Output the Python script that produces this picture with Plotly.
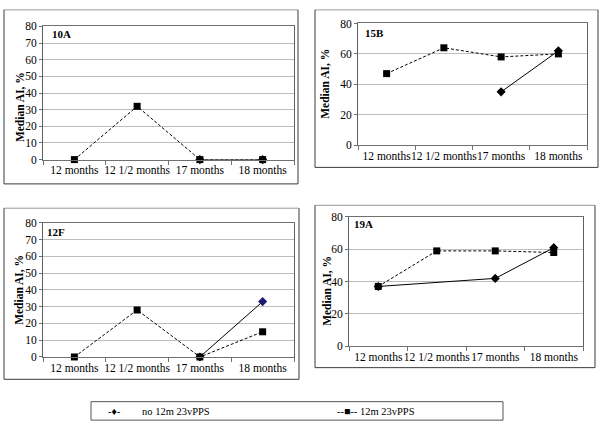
import plotly.graph_objects as go

W, H = 600, 431

categories = ["12 months", "12 1/2 months", "17 months", "18 months"]
panel_names = ["10A", "15B", "12F", "19A"]

p10A_no = [None, None, 0, 0]
p10A_12m = [0, 32, 0, 0]
p15B_no = [None, None, 35, 62]
p15B_12m = [47, 64, 58, 60]
p12F_no = [None, None, 0, 33]
p12F_12m = [0, 28, 0, 15]
p19A_no = [37, None, 42, 61]
p19A_12m = [37, 59, 59, 58]

series_no = [p10A_no, p15B_no, p12F_no, p19A_no]
series_12m = [p10A_12m, p15B_12m, p12F_12m, p19A_12m]
y_dtick = [10, 20, 10, 20]

legend_no = "no 12m 23vPPS"
legend_12m = "12m 23vPPS"
y_title = "Median AI, %"

# layout (pixels): plot area [x0, x1, y0, y1], outer box [x0, x1, y0, y1]
plot_px = [(43, 294, 21, 158), (358, 587, 18, 143), (43, 294, 223, 361), (349, 583, 217, 350)]
outer_px = [(4, 298, 4, 183), (315, 598, 4, 166), (4, 299, 208, 384), (315, 595, 205, 372)]
ytitle_px = [(20, 104), (325, 80), (19, 292), (327, 293)]
label_px = [(50, 29), (363, 28), (45, 232), (352, 224)]

FONT = "Times New Roman, Liberation Serif, serif"

def px(x):
    return x / W

def py(y):
    return 1 - y / H

fig = go.Figure()
layout = dict(
    width=W, height=H, margin=dict(l=0, r=0, t=0, b=0),
    paper_bgcolor="white", plot_bgcolor="white", showlegend=False,
    font=dict(family=FONT, size=11, color="black"),
)
shapes = []
annotations = []

for i in range(4):
    ax = "" if i == 0 else str(i + 1)
    x0, x1, y0, y1 = plot_px[i]
    marker_colors_no = ["black"] * 4
    if panel_names[i] == "12F":
        marker_colors_no = ["black", "black", "black", "#1a1a6e"]
    fig.add_trace(go.Scatter(
        x=categories, y=series_no[i], mode="lines+markers", connectgaps=True,
        line=dict(color="black", width=1),
        marker=dict(symbol="diamond", size=7, color=marker_colors_no),
        xaxis="x" + ax, yaxis="y" + ax, name=legend_no, cliponaxis=False,
    ))
    fig.add_trace(go.Scatter(
        x=categories, y=series_12m[i], mode="lines+markers",
        line=dict(color="black", width=1, dash="3px,2px"),
        marker=dict(symbol="square", size=7, color="black"),
        xaxis="x" + ax, yaxis="y" + ax, name=legend_12m, cliponaxis=False,
    ))
    layout["xaxis" + ax] = dict(
        domain=[px(x0), px(x1)], anchor="y" + ax, type="category",
        categoryorder="array", categoryarray=categories, range=[-0.5, 3.5],
        showline=True, linecolor="#707070", linewidth=1, mirror=True,
        ticks="outside", ticklen=4, tickcolor="#707070", tickson="boundaries",
        tickangle=0, showgrid=False,
        tickfont=dict(family=FONT, size=11.5, color="black"),
        fixedrange=True,
    )
    layout["yaxis" + ax] = dict(
        domain=[py(y1), py(y0)], anchor="x" + ax, range=[0, 80], dtick=y_dtick[i],
        showline=True, linecolor="#606060", linewidth=1, mirror=True,
        ticks="outside", ticklen=3, tickcolor="#707070",
        showgrid=True, gridcolor="#bdbdbd", gridwidth=1, zeroline=False,
        tickfont=dict(family=FONT, size=11.5, color="black"), fixedrange=True,
    )
    # outer frame
    ox0, ox1, oy0, oy1 = outer_px[i]
    shapes.append(dict(type="line", xref="paper", yref="paper",
                       x0=px(ox0), x1=px(ox1), y0=py(oy0), y1=py(oy0),
                       line=dict(color="#9a9a9a", width=1)))
    for (a, b, c, d) in [(ox0, oy0, ox0, oy1), (ox0, oy1, ox1, oy1), (ox1, oy0, ox1, oy1)]:
        shapes.append(dict(type="line", xref="paper", yref="paper",
                           x0=px(a), y0=py(b), x1=px(c), y1=py(d),
                           line=dict(color="#3a3a3a", width=1)))
    tx, ty = ytitle_px[i]
    annotations.append(dict(text="<b>" + y_title + "</b>", xref="paper", yref="paper",
                            x=px(tx), y=py(ty), textangle=-90, showarrow=False,
                            xanchor="center", yanchor="middle",
                            font=dict(family=FONT, size=11.5, color="black")))
    lx, ly = label_px[i]
    annotations.append(dict(text="<b>" + panel_names[i] + "</b>", xref="paper", yref="paper",
                            x=px(lx), y=py(ly), showarrow=False,
                            xanchor="left", yanchor="middle",
                            font=dict(family=FONT, size=11, color="black")))

# legend box
shapes.append(dict(type="rect", xref="paper", yref="paper",
                   x0=px(91), x1=px(503), y0=py(426), y1=py(407),
                   line=dict(color="#555555", width=1)))
annotations.append(dict(text="-\u2666-", xref="paper", yref="paper", x=px(106), y=py(417),
                        showarrow=False, xanchor="left", yanchor="middle",
                        font=dict(family=FONT, size=10.5, color="black")))
annotations.append(dict(text=legend_no, xref="paper", yref="paper", x=px(140), y=py(417),
                        showarrow=False, xanchor="left", yanchor="middle",
                        font=dict(family=FONT, size=10.5, color="black")))
annotations.append(dict(text="--\u25a0-- " + legend_12m, xref="paper", yref="paper", x=px(335), y=py(417),
                        showarrow=False, xanchor="left", yanchor="middle",
                        font=dict(family=FONT, size=10.5, color="black")))

layout["shapes"] = shapes
layout["annotations"] = annotations
fig.update_layout(**layout)
fig.write_html("out.html", config={"displayModeBar": False, "staticPlot": True},
               post_script="document.body.style.margin='0px';document.body.style.overflow='hidden';")
